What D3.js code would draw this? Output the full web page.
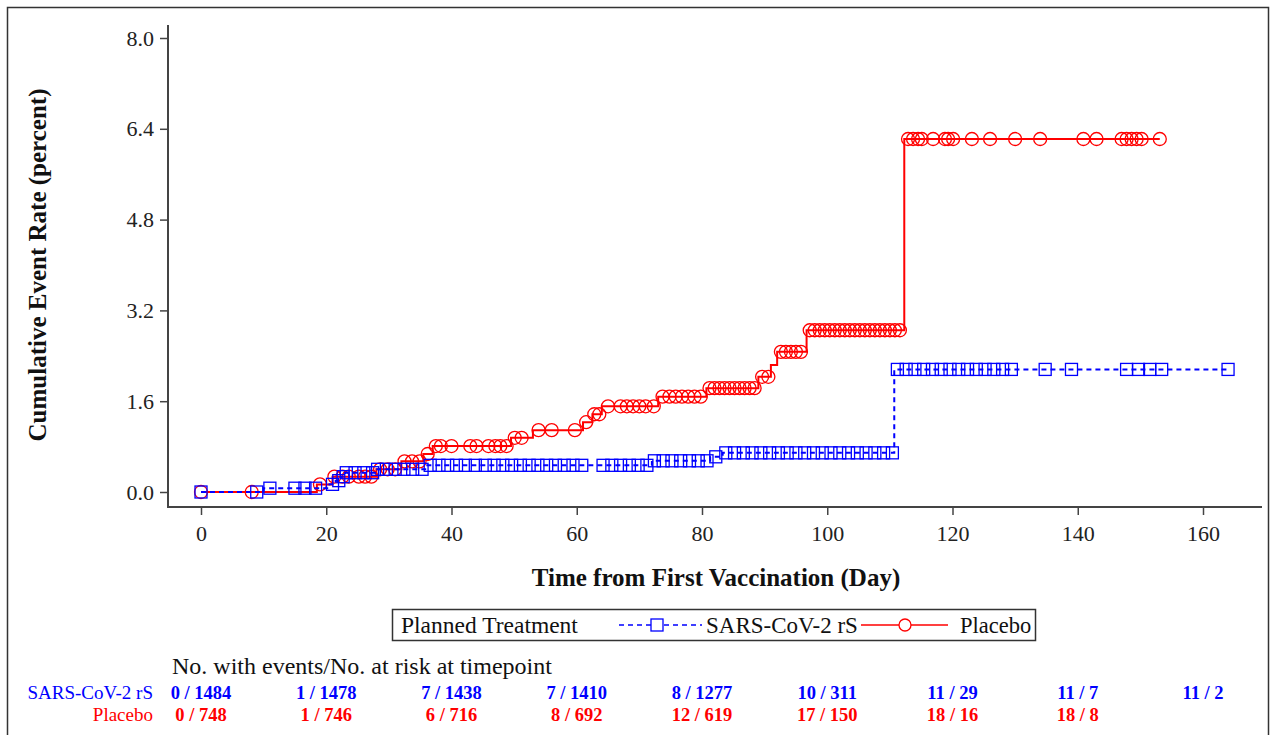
<!DOCTYPE html>
<html>
<head>
<meta charset="utf-8">
<script src="https://cdn.jsdelivr.net/npm/d3@7"></script>
<style>
  body { margin: 0; background: #fff; }
  svg { display: block; }
</style>
</head>
<body>
<div id="chart-area"></div>
<script>
// step curves: [day, cumulative event rate %]
const vaccineSteps = [[0, 0], [10, 0.067], [20.5, 0.135], [21.5, 0.2], [22.3, 0.27], [23, 0.34],
  [27.8, 0.4], [35.8, 0.47], [72, 0.55], [81.3, 0.62], [83.3, 0.69], [110.7, 2.16]];
const placeboSteps = [[0, 0], [18.5, 0.134], [21, 0.27], [28, 0.4], [32, 0.54], [35.5, 0.67],
  [37, 0.81], [49.5, 0.955], [53, 1.09], [61, 1.23], [62.5, 1.37], [64, 1.51], [73, 1.68],
  [80.7, 1.83], [89, 2.03], [91, 2.24], [92, 2.47], [96.7, 2.85], [112.3, 6.22]];

// censored observations (days)
const vaccineCensor = [0, 8.9, 11, 15, 16.6, 18.3, 21, 22, 22.7, 23.2, 24.6, 26, 27.4,
  28.2, 29.6, 31, 32.4, 33.8, 35.3, 36.6, 38, 39.4, 40.8, 42.2, 43.8,
  45.4, 46.8, 48.2, 49.6, 51, 52.4, 53.8, 55.2, 56.6, 58, 59.4, 60.8,
  64.2, 65.6, 67, 68.4, 69.8, 71.2, 72.4, 73.8, 75.2, 76.6, 78, 79.4, 80.8, 82.2,
  83.8, 85.2, 86.6, 88, 89.4, 90.8, 92.2, 93.6, 95, 96.4, 97.8, 99.2, 100.6, 102,
  103.4, 104.8, 106.2, 107.6, 109, 110.4,
  111.2, 112.6, 114, 115.4, 116.8, 118.2, 119.6, 121, 122.4, 123.8, 125.2, 126.6, 128, 129.4,
  134.8, 139, 147.8, 149.7, 151.5, 153.4, 164];
const placeboCensor = [0, 8.1, 19, 21.3, 22.6, 23.6, 25.2, 26.2, 27.2, 28.6, 29.8, 31,
  32.5, 33.7, 34.9, 36.2, 37.5, 38.3, 40, 43, 44, 45.9, 47, 47.8, 48.8, 50.1, 51.2,
  53.9, 56, 59.7, 61.5, 62.8, 63.6, 65, 67, 68, 69, 70, 71, 72.3, 73.7, 74.8, 75.8,
  76.8, 77.8, 78.8, 79.8, 81.2, 82, 82.8, 83.6, 84.4, 85.2, 86, 86.8, 87.6, 88.4,
  89.6, 90.6, 92.6, 93.4, 94.2, 95, 95.8, 97.2, 98, 98.8, 99.6, 100.4, 101.2, 102,
  102.8, 103.6, 104.4, 105.2, 106, 106.8, 107.6, 108.4, 109.2, 110, 110.8, 111.6,
  112.9, 113.7, 114.5, 115.1, 116.9, 118.8, 119.3, 120.1, 123.1, 126, 130, 134,
  140.9, 143, 147, 147.8, 148.6, 149.4, 150.2, 153.1];

const yTicks = [0, 1.6, 3.2, 4.8, 6.4, 8.0];
const xTicks = [0, 20, 40, 60, 80, 100, 120, 140, 160];
const riskTimes = [0, 20, 40, 60, 80, 100, 120, 140, 160];
const vaccineRisk = ['0 / 1484', '1 / 1478', '7 / 1438', '7 / 1410', '8 / 1277', '10 / 311', '11 / 29', '11 / 7', '11 / 2'];
const placeboRisk = ['0 / 748', '1 / 746', '6 / 716', '8 / 692', '12 / 619', '17 / 150', '18 / 16', '18 / 8'];

const svgWidth = 1276, svgHeight = 735;
const font = "'Liberation Serif', 'Times New Roman', serif";
const blue = '#0000ff', red = '#ff0000', axisColor = '#444';

const svg = d3.select('#chart-area')
  .append('svg')
    .attr('width', svgWidth)
    .attr('height', svgHeight);

// outer frame
svg.append('rect')
  .attr('x', 7.5).attr('y', 7.5)
  .attr('width', 1261).attr('height', 760)
  .attr('fill', 'none')
  .attr('stroke', '#333')
  .attr('stroke-width', 1.5);

const x = d3.scaleLinear().domain([0, 160]).range([201, 1203]);
const y = d3.scaleLinear().domain([0, 8]).range([492, 38]);

const axisLeftX = 168, axisBottomY = 507;

// axes
const yAxis = svg.append('g')
  .attr('transform', `translate(${axisLeftX},0)`)
  .call(d3.axisLeft(y).tickValues(yTicks).tickFormat(d3.format('.1f')).tickSize(8).tickPadding(6));
const xAxis = svg.append('g')
  .attr('transform', `translate(0,${axisBottomY})`)
  .call(d3.axisBottom(x).tickValues(xTicks).tickSize(8).tickPadding(10));
[yAxis, xAxis].forEach(g => {
  g.select('.domain').remove();
  g.selectAll('line').attr('stroke', axisColor).attr('stroke-width', 1.5);
  g.selectAll('text').attr('font-family', font).attr('font-size', 22).attr('fill', '#222');
});
svg.append('path')
  .attr('d', `M${axisLeftX},25V${axisBottomY}H1262`)
  .attr('fill', 'none')
  .attr('stroke', axisColor)
  .attr('stroke-width', 2);

// axis titles
svg.append('text')
  .text('Time from First Vaccination (Day)')
  .attr('x', 716).attr('y', 586)
  .attr('text-anchor', 'middle')
  .attr('font-family', font).attr('font-size', 25).attr('font-weight', 700)
  .attr('fill', '#111');
svg.append('text')
  .text('Cumulative Event Rate (percent)')
  .attr('transform', 'translate(46,265) rotate(-90)')
  .attr('text-anchor', 'middle')
  .attr('font-family', font).attr('font-size', 25).attr('font-weight', 700)
  .attr('fill', '#111');

// curves
const levelAt = (steps, t) => {
  let v = 0;
  steps.forEach(s => { if (s[0] <= t) v = s[1]; });
  return v;
};
const line = d3.line().x(d => x(d[0])).y(d => y(d[1])).curve(d3.curveStepAfter);
const extend = (steps, censor) => {
  const last = d3.max(censor);
  return steps.concat([[last, levelAt(steps, last)]]);
};

const plot = svg.append('g');

plot.append('path')
  .attr('d', line(extend(placeboSteps, placeboCensor)))
  .attr('fill', 'none')
  .attr('stroke', red)
  .attr('stroke-width', 2);
plot.selectAll('circle.pl')
  .data(placeboCensor)
  .enter()
  .append('circle')
    .attr('class', 'pl')
    .attr('cx', d => x(d))
    .attr('cy', d => y(levelAt(placeboSteps, d)))
    .attr('r', 6.5)
    .attr('fill', 'none')
    .attr('stroke', red)
    .attr('stroke-width', 1.3);

plot.append('path')
  .attr('d', line(extend(vaccineSteps, vaccineCensor)))
  .attr('fill', 'none')
  .attr('stroke', blue)
  .attr('stroke-width', 2)
  .attr('stroke-dasharray', '5,4');
plot.selectAll('rect.vx')
  .data(vaccineCensor)
  .enter()
  .append('rect')
    .attr('class', 'vx')
    .attr('x', d => x(d) - 6)
    .attr('y', d => y(levelAt(vaccineSteps, d)) - 6)
    .attr('width', 12)
    .attr('height', 12)
    .attr('fill', 'none')
    .attr('stroke', blue)
    .attr('stroke-width', 1.3);

// legend
const legend = svg.append('g');
legend.append('rect')
  .attr('x', 392.5).attr('y', 609.5)
  .attr('width', 643).attr('height', 31)
  .attr('fill', 'none')
  .attr('stroke', '#333')
  .attr('stroke-width', 1.5);
legend.append('text')
  .text('Planned Treatment')
  .attr('x', 401).attr('y', 633)
  .attr('font-family', font).attr('font-size', 23.5).attr('fill', '#111');
legend.append('line')
  .attr('x1', 619).attr('x2', 702).attr('y1', 625).attr('y2', 625)
  .attr('stroke', blue).attr('stroke-width', 1.5).attr('stroke-dasharray', '5,4');
legend.append('rect')
  .attr('x', 651).attr('y', 619).attr('width', 12).attr('height', 12)
  .attr('fill', '#fff').attr('stroke', blue).attr('stroke-width', 1.3);
legend.append('text')
  .text('SARS-CoV-2 rS')
  .attr('x', 706).attr('y', 633)
  .attr('font-family', font).attr('font-size', 23).attr('fill', '#111');
legend.append('line')
  .attr('x1', 861).attr('x2', 948).attr('y1', 625).attr('y2', 625)
  .attr('stroke', red).attr('stroke-width', 1.5);
legend.append('circle')
  .attr('cx', 905).attr('cy', 625).attr('r', 6)
  .attr('fill', '#fff').attr('stroke', red).attr('stroke-width', 1.3);
legend.append('text')
  .text('Placebo')
  .attr('x', 960).attr('y', 633)
  .attr('font-family', font).attr('font-size', 22.5).attr('fill', '#111');

// risk table
svg.append('text')
  .text('No. with events/No. at risk at timepoint')
  .attr('x', 172).attr('y', 674)
  .attr('font-family', font).attr('font-size', 24).attr('fill', '#111');

const rows = [
  { label: 'SARS-CoV-2 rS', values: vaccineRisk, color: blue, y: 699 },
  { label: 'Placebo', values: placeboRisk, color: red, y: 721 }
];
rows.forEach(r => {
  svg.append('text')
    .text(r.label)
    .attr('x', 153).attr('y', r.y)
    .attr('text-anchor', 'end')
    .attr('font-family', font).attr('font-size', 19).attr('fill', r.color);
  svg.selectAll(null)
    .data(r.values)
    .enter()
    .append('text')
      .text(d => d)
      .attr('x', (d, i) => x(riskTimes[i]))
      .attr('y', r.y)
      .attr('text-anchor', 'middle')
      .attr('font-family', font).attr('font-size', 18.5).attr('font-weight', 700)
      .attr('fill', r.color);
});
</script>
</body>
</html>
